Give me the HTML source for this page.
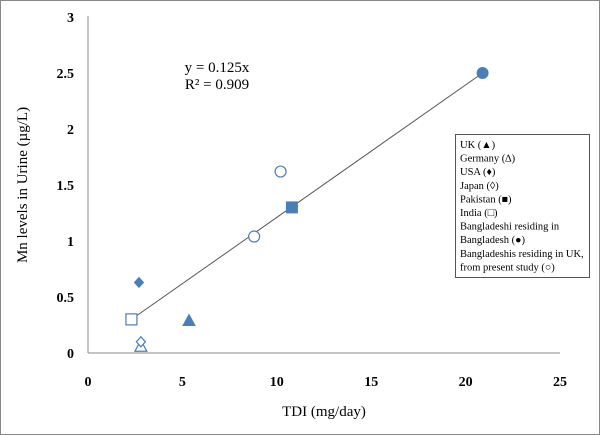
<!DOCTYPE html>
<html><head><meta charset="utf-8"><style>
html,body{margin:0;padding:0;background:#fff}
svg{display:block;font-family:"Liberation Serif",serif}
</style></head><body>
<svg id="chart" width="600" height="435">
<rect x="0.5" y="0.5" width="599" height="434" fill="#fff" stroke="#888"/>
<g id="axes"></g>
<g id="marks"></g>
<text x="217" y="72" font-size="15" text-anchor="middle">y = 0.125x</text>
<text x="217" y="89" font-size="15" text-anchor="middle">R² = 0.909</text>
<text x="324" y="416" font-size="15" text-anchor="middle">TDI (mg/day)</text>
<text transform="translate(27,185) rotate(-90)" font-size="15" text-anchor="middle">Mn levels in Urine (µg/L)</text>
<g>
<rect x="455.5" y="134.5" width="134" height="143" fill="#fff" stroke="#555"/>
<g font-size="10.5" id="legend-text"></g>
</g>
</svg>
<script>
const xTicks=[0,5,10,15,20,25];
const yTicks=[0,0.5,1,1.5,2,2.5,3];
const seriesNames=["UK","Germany","USA","Japan","Pakistan","India","Bangladesh","UK present study"];
const seriesX=[[5.35],[2.8],[2.7],[2.8],[10.8],[2.3],[20.9],[10.2,8.8]];
const seriesY=[[0.29],[0.06],[0.63],[0.10],[1.30],[0.30],[2.5],[1.62,1.04]];
const seriesShape=["tri","otri","dia","odia","sq","osq","circ","ocirc"];
const trendX=[2.3,20.9];
const trendY=[0.3,2.5];
const legendLines=["UK (▲)","Germany (∆)","USA (♦)","Japan (◊)","Pakistan (■)","India (□)","Bangladeshi residing in","Bangladesh (●)","Bangladeshis residing in UK,","from present study (○)"];
const NS="http://www.w3.org/2000/svg";
const sx=v=>88+v*(560-88)/25;
const sy=v=>353-v*112;
function mk(tag,attrs,parent){const e=document.createElementNS(NS,tag);for(const k in attrs)e.setAttribute(k,attrs[k]);parent.appendChild(e);return e;}
const ax=document.getElementById('axes');
let l=mk('line',{x1:88,y1:16,x2:88,y2:353,stroke:'#888'},ax);


l=mk('line',{x1:88,y1:353,x2:560,y2:353,stroke:'#888'},ax);


xTicks.forEach(t=>{const e=mk('text',{x:sx(t),y:386,'font-size':14,'font-weight':'bold','text-anchor':'middle'},ax);e.textContent=t;

});
yTicks.forEach(t=>{const e=mk('text',{x:74,y:sy(t)+5,'font-size':14,'font-weight':'bold','text-anchor':'end'},ax);e.textContent=t;

});
const m=document.getElementById('marks');
const tl=mk('line',{x1:sx(trendX[0]),y1:sy(trendY[0]),x2:sx(trendX[1]),y2:sy(trendY[1]),stroke:'#555','stroke-width':1},m);


const C='#4a7ebb';
seriesX.forEach((xs,i)=>{xs.forEach((xv,j)=>{const x=sx(xv),y=sy(seriesY[i][j]);const s=seriesShape[i];const open=s[0]==='o';
const st=open?{fill:'#fff',stroke:C,'stroke-width':1.2}:{fill:C,stroke:C};let e;
if(s.endsWith('tri'))e=mk('polygon',Object.assign({points:`${x},${y-6} ${x-6},${y+5} ${x+6},${y+5}`},st),m);
else if(s.endsWith('dia'))e=mk('polygon',Object.assign({points:`${x},${y-5} ${x-4.5},${y} ${x},${y+5} ${x+4.5},${y}`},st),m);
else if(s.endsWith('sq'))e=mk('rect',Object.assign({x:x-5.5,y:y-5.5,width:11,height:11},st),m);
else e=mk('circle',Object.assign({cx:x,cy:y,r:5.5},st),m);

});});
const lg=document.getElementById('legend-text');
legendLines.forEach((t,i)=>{const e=mk('text',{x:460,y:148+i*13.6},lg);e.textContent=t;

});
</script>
</body></html>
